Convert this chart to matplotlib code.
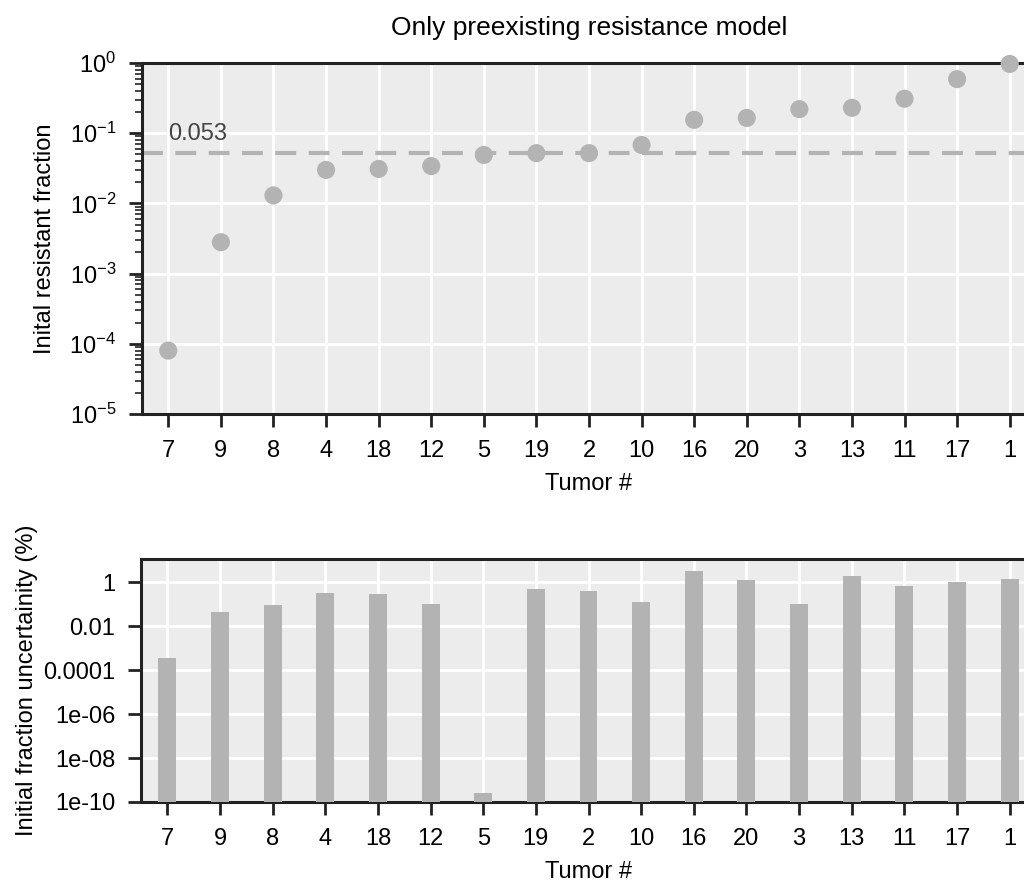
import matplotlib
matplotlib.use("Agg")
import matplotlib.pyplot as plt
import numpy as np
from matplotlib.ticker import LogLocator, FuncFormatter, NullLocator

plt.rcParams['font.family'] = ['Liberation Sans', 'DejaVu Sans']

tumors = ['7', '9', '8', '4', '18', '12', '5', '19', '2', '10', '16', '20', '3', '13', '11', '17', '1']
init_fraction = [8e-5, 2.8e-3, 0.013, 0.030, 0.031, 0.034, 0.049, 0.052, 0.052, 0.068,
                 0.155, 0.165, 0.22, 0.23, 0.31, 0.59, 0.97]
uncertainty_pct = [3.5e-4, 0.044, 0.087, 0.32, 0.30, 0.10, 2.6e-10, 0.51, 0.39, 0.127,
                   3.25, 1.23, 0.103, 1.87, 0.66, 1.03, 1.37]
median_fraction = 0.053

grey = '#b3b3b3'
bg = '#ececec'
spine_col = '#222222'
fs = 17

fig = plt.figure(figsize=(10.24, 8.81), dpi=100)
ax1 = fig.add_axes([142/1024, 1 - 414/881, 894/1024, 351/881])
ax2 = fig.add_axes([141/1024, 1 - 802/881, 895/1024, 243/881])

x = np.arange(len(tumors))

def style(ax):
    ax.set_facecolor(bg)
    ax.grid(True, color='white', linewidth=2)
    ax.set_axisbelow(True)
    for s in ['top', 'left', 'bottom', 'right']:
        ax.spines[s].set_color(spine_col)
        ax.spines[s].set_linewidth(2.2)
    ax.tick_params(axis='both', which='major', length=9.5, width=2, color=spine_col,
                   labelsize=fs, pad=9)
    ax.tick_params(axis='both', which='minor', length=5, width=1.2, color=spine_col)
    ax.set_xticks(x)
    ax.set_xticklabels(tumors)
    ax.set_xlim(-0.5, len(tumors) - 0.5)
    ax.set_xlabel('Tumor #', fontsize=17, labelpad=8)

# top panel
style(ax1)
ax1.set_yscale('log')
ax1.set_ylim(1e-5, 1)
ax1.yaxis.set_major_locator(LogLocator(base=10, numticks=10))
ax1.yaxis.set_minor_locator(LogLocator(base=10, subs=np.arange(2, 10), numticks=10))
ax1.axhline(median_fraction, color=grey, linestyle=(0, (5, 3)), linewidth=3, zorder=2)
ax1.text(0, median_fraction * 1.3, '%.3f' % median_fraction, fontsize=17, color='#444444',
         ha='left', va='bottom')
ax1.scatter(x, init_fraction, s=170, color=grey, zorder=3, clip_on=False, edgecolors='none')
ax1.set_ylabel('Inital resistant fraction', fontsize=17, labelpad=10)
ax1.set_title('Only preexisting resistance model', fontsize=19, pad=20)

# bottom panel
style(ax2)
ax2.set_yscale('log')
ax2.set_ylim(1e-10, 10 ** 1.05)
ax2.set_yticks([1, 1e-2, 1e-4, 1e-6, 1e-8, 1e-10])
ax2.yaxis.set_major_formatter(FuncFormatter(lambda v, p: '%g' % v))
ax2.yaxis.set_minor_locator(NullLocator())
ax2.bar(x, uncertainty_pct, width=0.34, color=grey, zorder=3)
ax2.set_ylabel('Initial fraction uncertainity (%)', fontsize=17, labelpad=4)

fig.savefig('out.png', dpi=100)
